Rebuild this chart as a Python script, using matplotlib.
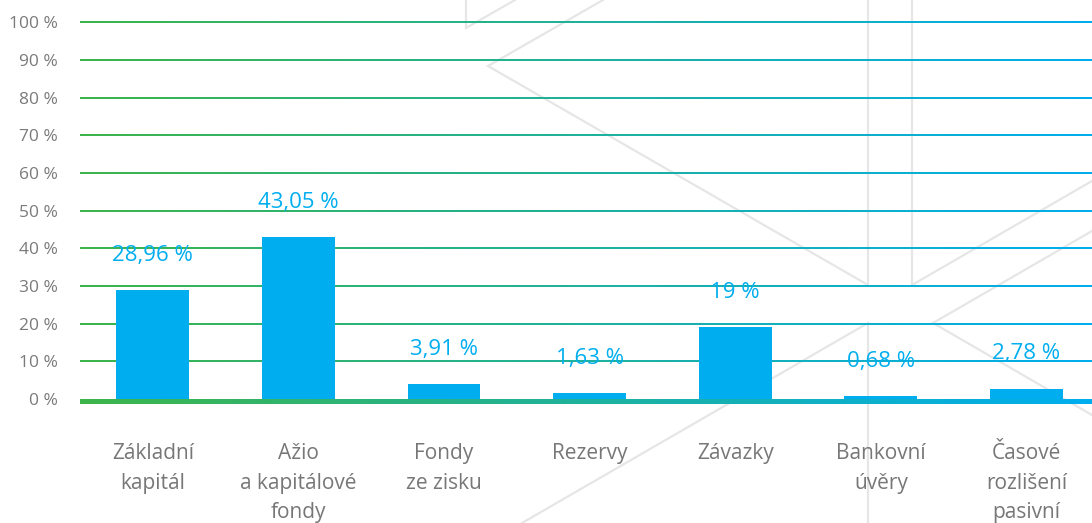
import numpy as np
import matplotlib
matplotlib.use("Agg")
import matplotlib.pyplot as plt
from matplotlib.lines import Line2D
from matplotlib.colors import LinearSegmentedColormap

# Data
categories = ["Základní\nkapitál", "Ažio\na kapitálové\nfondy", "Fondy\nze zisku",
              "Rezervy", "Závazky", "Bankovní\núvěry", "Časové\nrozlišení\npasivní"]
values = [28.96, 43.05, 3.91, 1.63, 19.0, 0.68, 2.78]
value_labels = ["28,96 %", "43,05 %", "3,91 %", "1,63 %", "19 %", "0,68 %", "2,78 %"]
y_ticks = [0, 10, 20, 30, 40, 50, 60, 70, 80, 90, 100]
y_tick_labels = [f"{t} %" for t in y_ticks]

# Decorative background (pixel coordinates in the 1092x523 picture)
W, H = 1092, 523
decor = [
    [(466, 0), (466, 28), (515, 0)],
    [(603, 0), (488, 66), (868, 285), (868, 0)],
    [(912, 0), (912, 285), (1092, 181)],
    [(522, 523), (868, 323), (868, 523)],
    [(1092, 231), (933, 323), (1092, 415)],
]

plt.rcParams['font.family'] = ['Open Sans', 'DejaVu Sans']

blue = "#00aeef"
green = "#3db54a"
gray_tick = "#7a7a7a"
gray_cat = "#777777"
grad_cmap = LinearSegmentedColormap.from_list("gb", [green, blue])

fig = plt.figure(figsize=(W / 100, H / 100), dpi=100)
fig.patch.set_facecolor("white")

for pts in decor:
    xs = [p[0] / W for p in pts]
    ys = [1 - p[1] / H for p in pts]
    fig.add_artist(Line2D(xs, ys, transform=fig.transFigure, color="#e6e6e6",
                          lw=1.6, zorder=0, solid_joinstyle="miter"))

y0_px, y100_px = 399.0, 22.5
ax = fig.add_axes([80 / W, (H - y0_px) / H, 1 - 80 / W, (y0_px - y100_px) / H])
ax.set_facecolor("none")

x = np.arange(len(categories))
xmin, xmax = -0.5, 6.45
px = 100 / (y0_px - y100_px)  # data units per pixel in y
grad = np.linspace(0, 1, 256)[None, :]


def gradient_line(y0, y1, z):
    im = ax.imshow(grad, cmap=grad_cmap, extent=[xmin, xmax, y0, y1],
                   aspect="auto", interpolation="bilinear", zorder=z)
    im.set_clip_on(False)


for t in y_ticks[1:]:
    gradient_line(t - 0.9 * px, t + 0.9 * px, 1)

ax.bar(x, values, width=0.5, color=blue, zorder=2)
# thick base line just below zero
gradient_line(-4.8 * px, 0.2 * px, 2.5)

for xi, v, lab in zip(x, values, value_labels):
    ax.annotate(lab, (xi, v), xytext=(0, 25), textcoords="offset points",
                ha="center", va="center", color=blue, fontsize=16, zorder=3)

ax.set_xlim(xmin, xmax)
ax.set_ylim(0, 100)
ax.set_yticks(y_ticks)
ax.set_yticklabels(y_tick_labels)
ax.set_xticks(x)
ax.set_xticklabels(categories, linespacing=1.53)
ax.tick_params(axis="y", length=0, pad=16, labelsize=12.5, labelcolor=gray_tick)
ax.tick_params(axis="x", length=0, pad=32, labelsize=15, labelcolor=gray_cat)
for s in ax.spines.values():
    s.set_visible(False)

fig.savefig("out.png", dpi=100)
